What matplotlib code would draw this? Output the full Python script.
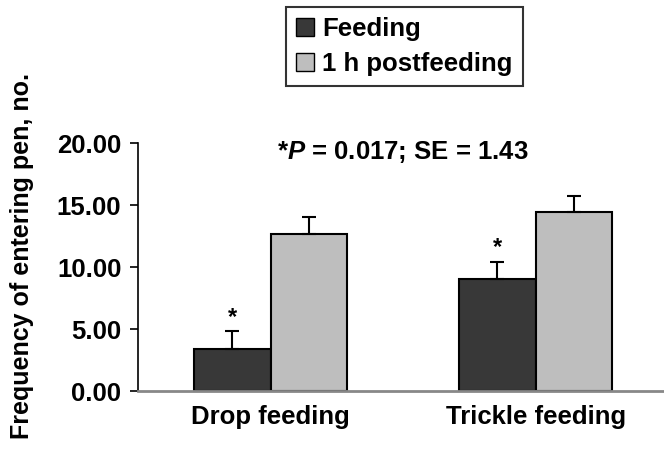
import numpy as np
from matplotlib import pyplot as plt
from matplotlib.patches import Patch

plt.rcParams['font.family'] = ['Liberation Sans', 'DejaVu Sans']
plt.rcParams['font.weight'] = 'bold'
plt.rcParams['mathtext.fontset'] = 'custom'
plt.rcParams['mathtext.it'] = 'Liberation Sans:italic:bold'

groups = ['Drop feeding', 'Trickle feeding']
feeding = [3.38, 9.07]
postfeeding = [12.69, 14.41]
feeding_se = [1.45, 1.35]
post_se = [1.34, 1.35]
yticks = [0, 5, 10, 15, 20]

FS = 18.5
x = np.arange(len(groups))
w = 0.289

fig = plt.figure(figsize=(6.64, 4.61), dpi=100)
ax = fig.add_axes([0.2078, 0.1518, 0.7922, 0.538])

err_kw = dict(ecolor='black', elinewidth=1.5, capsize=5, capthick=1.5)
ax.bar(x - w / 2, feeding, w, color='#383838', edgecolor='black', linewidth=1.5,
       yerr=[np.zeros(2), feeding_se], error_kw=err_kw, label='Feeding', zorder=2)
ax.bar(x + w / 2, postfeeding, w, color='#bebebe', edgecolor='black', linewidth=1.5,
       yerr=[np.zeros(2), post_se], error_kw=err_kw, label='1 h postfeeding', zorder=2)

# significance stars over feeding bars
for xi, v, s in zip(x, feeding, feeding_se):
    ax.text(xi - w / 2, v + s + 0.2, '*', ha='center', va='bottom', fontsize=17, fontweight='bold')

ax.text(0.5, 19.3, r'*$\mathit{P}$ = 0.017; SE = 1.43', ha='center', va='center',
        fontsize=FS, fontweight='bold')

ax.set_xlim(-0.5, 1.484)
ax.set_ylim(0, 20)
ax.set_yticks(yticks)
ax.set_yticklabels(['{:.2f}'.format(t) for t in yticks], fontsize=FS, fontweight='bold')
ax.set_xticks(x)
ax.set_xticklabels(groups, fontsize=FS, fontweight='bold')
ax.tick_params(axis='x', length=0, pad=10)
ax.tick_params(axis='y', length=6, width=1.2, direction='out', pad=6)
ax.set_ylabel('Frequency of entering pen, no.', fontsize=18, fontweight='bold')
ax.yaxis.set_label_coords(-0.197, 0.544)

for s in ['top', 'right']:
    ax.spines[s].set_visible(False)
ax.spines['left'].set_linewidth(1.2)
ax.spines['bottom'].set_color('#888888')
ax.spines['bottom'].set_linewidth(2)

handles = [Patch(facecolor='#383838', edgecolor='black'),
           Patch(facecolor='#bebebe', edgecolor='black')]
leg = fig.legend(handles, ['Feeding', '1 h postfeeding'], loc='upper left',
                 bbox_to_anchor=(286 / 664, 1 - 7 / 461), frameon=True,
                 fancybox=False, edgecolor='black', handlelength=0.7, handleheight=0.7,
                 handletextpad=0.3, borderpad=0.4, labelspacing=0.4,
                 borderaxespad=0, prop={'weight': 'bold', 'size': FS})
leg.get_frame().set_linewidth(1.5)

fig.savefig('out.png', dpi=100)
